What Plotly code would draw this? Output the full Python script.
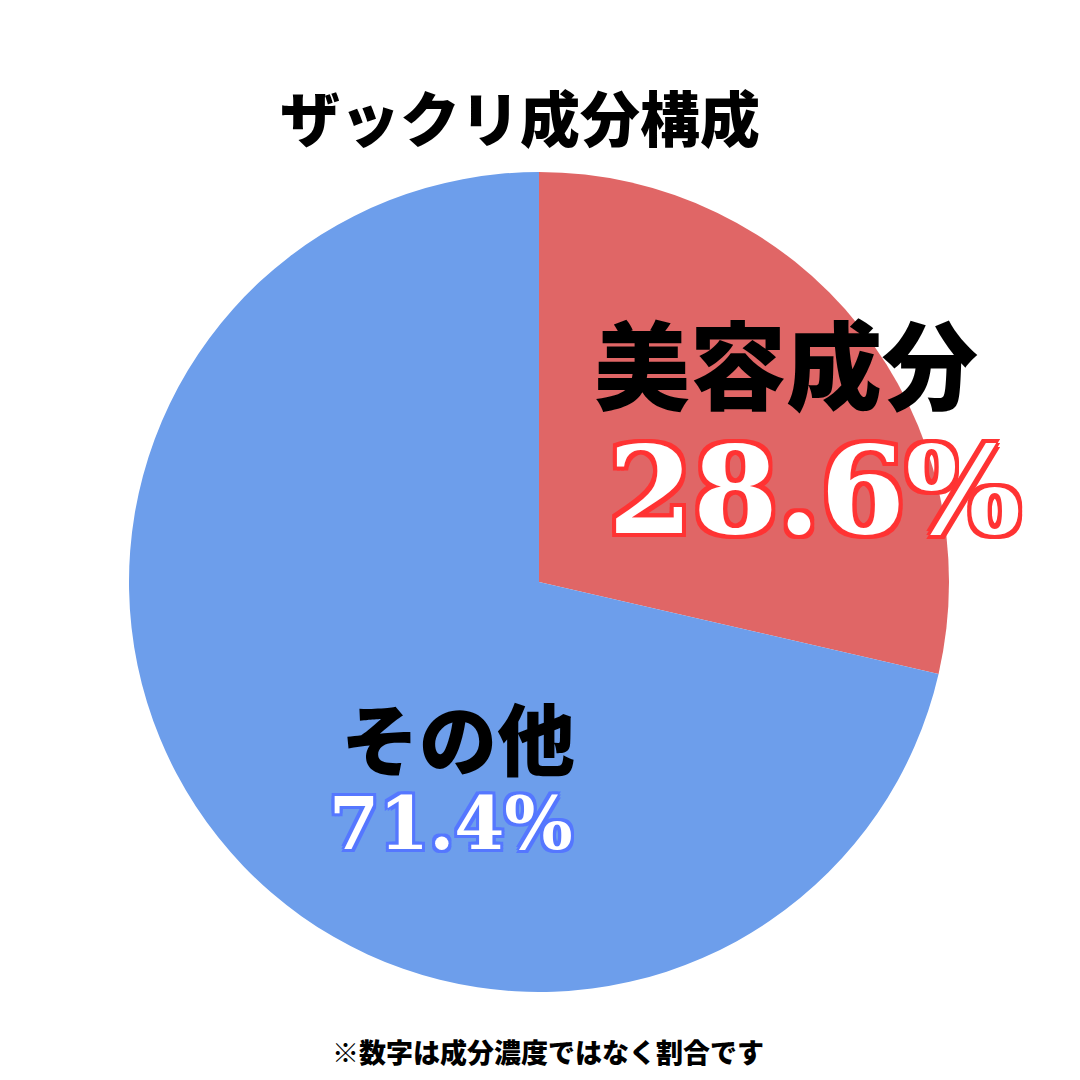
import plotly.graph_objects as go

labels = ["美容成分", "その他"]
values = [28.6, 71.4]
colors = ["#E06666", "#6D9EEB"]
title = "ザックリ成分構成"
note = "※数字は成分濃度ではなく割合です"

W = H = 1080
fig = go.Figure(go.Pie(
    labels=labels, values=values, sort=False, direction="clockwise", rotation=0,
    marker=dict(colors=colors, line=dict(width=0)),
    textinfo="none", hoverinfo="label+percent", showlegend=False,
    domain=dict(x=[121/W, 941/W], y=[1-984/H, 1-164/H]),
))

F = "Noto Sans CJK JP"
def outline(c, w):
    s = []
    for dx in (-w, 0, w):
        for dy in (-w, 0, w):
            if dx or dy:
                s.append(f"{dx}px {dy}px 0 {c}")
    return ", ".join(s)

def ann(x, y, text, size, color="black", shadow=None, family=F):
    fig.add_annotation(x=x/W, y=1-y/H, xref="paper", yref="paper", text=text,
                       showarrow=False, xanchor="center", yanchor="middle",
                       font=dict(family=family, size=size, color=color, weight=900,
                                 shadow=shadow or "none"))

ann(512, 108, title, 60)
ann(778, 352, labels[0], 96)
ann(806, 482, f"{values[0]}%", 122, "white", outline("#FF3333", 4), "DejaVu Serif")
ann(450, 728, labels[1], 78)
ann(443, 815, f"{values[1]}%", 72, "white", outline("#5577FF", 3), "DejaVu Serif")
ann(540, 1043, note, 27)

fig.update_layout(width=W, height=H, margin=dict(l=0, r=0, t=0, b=0),
                  paper_bgcolor="white", plot_bgcolor="white")
fig.write_html("out.html")
